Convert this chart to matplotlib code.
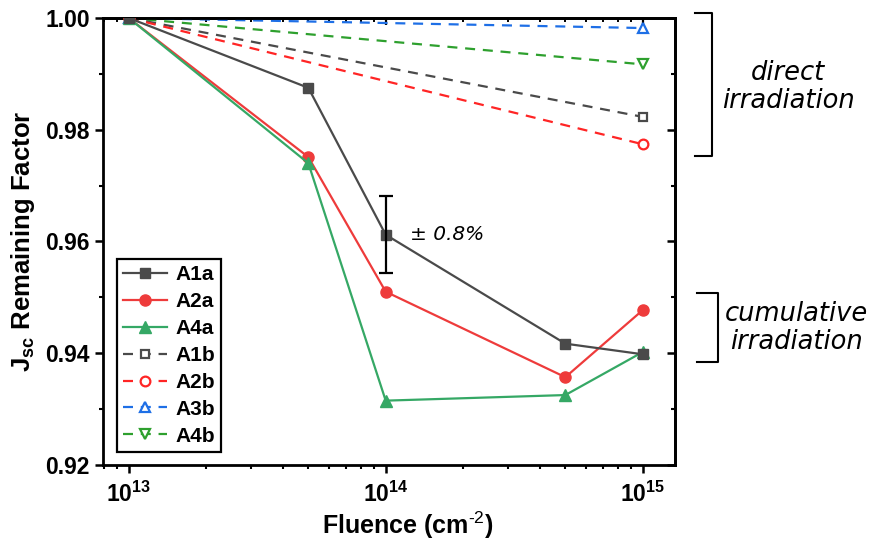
import matplotlib
matplotlib.use("Agg")
import matplotlib.pyplot as plt
from matplotlib.lines import Line2D
import numpy as np

plt.rcParams['font.family'] = ['Liberation Sans', 'DejaVu Sans']
plt.rcParams['mathtext.fontset'] = 'custom'
plt.rcParams['mathtext.rm'] = 'Liberation Sans'
plt.rcParams['mathtext.bf'] = 'Liberation Sans:bold'
plt.rcParams['mathtext.default'] = 'bf'

# ---- data ----
fluence = [1e13, 5e13, 1e14, 5e14, 1e15]
A1a = [1.0, 0.9875, 0.9612, 0.9417, 0.9398]
A2a = [1.0, 0.9751, 0.9510, 0.9357, 0.9477]
A4a = [1.0, 0.9740, 0.9315, 0.9325, 0.9402]
A1a_err_x = [1e14]
A1a_err_y = [0.9612]
A1a_err = [0.0069]

fluence_b = [1e13, 1e15]
A1b = [1.0, 0.9823]
A2b = [1.0, 0.9774]
A3b = [1.0, 0.9982]
A4b = [1.0, 0.9917]

yticks = [0.92, 0.94, 0.96, 0.98, 1.00]
xticks = [1e13, 1e14, 1e15]
xticklabels = [r'$10^{13}$', r'$10^{14}$', r'$10^{15}$']

c_gray = '#4a4a4a'
c_red = '#ee3b3b'
c_green = '#35a865'
c_blue = '#1e6fe6'
c_bgreen = '#2ea02e'
c_bred = '#ff2525'

fig = plt.figure(figsize=(8.73, 5.45), dpi=100)
ax = fig.add_axes([0.118, 0.147, 0.655, 0.82])

dash = (0, (4.5, 3.5))
lw = 1.6
ms = 7
ax.plot(fluence_b, A3b, linestyle=dash, color=c_blue, lw=lw, marker='^', ms=ms,
        mfc='white', mew=1.6, label='A3b', zorder=2)
ax.plot(fluence_b, A4b, linestyle=dash, color=c_bgreen, lw=lw, marker='v', ms=ms,
        mfc='white', mew=1.6, label='A4b', zorder=2)
ax.plot(fluence_b, A1b, linestyle=dash, color=c_gray, lw=lw, marker='s', ms=6,
        mfc='white', mew=1.6, label='A1b', zorder=2)
ax.plot(fluence_b, A2b, linestyle=dash, color=c_bred, lw=lw, marker='o', ms=ms,
        mfc='white', mew=1.6, label='A2b', zorder=2)

ax.plot(fluence, A1a, '-', color=c_gray, lw=lw, marker='s', ms=ms, label='A1a', zorder=4)
ax.plot(fluence, A2a, '-', color=c_red, lw=lw, marker='o', ms=8, label='A2a', zorder=3)
ax.plot(fluence, A4a, '-', color=c_green, lw=lw, marker='^', ms=8, label='A4a', zorder=3)
ax.errorbar(A1a_err_x, A1a_err_y, yerr=A1a_err, fmt='none', ecolor='black',
            elinewidth=1.6, capsize=5, capthick=1.6, zorder=5)

ax.text(1.24e14, 0.9612, '± 0.8%', fontsize=14.5, style='italic',
        family='DejaVu Sans', va='center', ha='left')

ax.set_xscale('log')
ax.set_xlim(10 ** 12.9, 10 ** 15.125)
ax.set_ylim(0.92, 1.00)
ax.set_xticks(xticks)
ax.set_xticklabels(xticklabels)
ax.set_yticks(yticks)
ax.set_yticklabels([f'{v:.2f}' for v in yticks])
ax.set_yticks(np.arange(0.93, 1.0, 0.02), minor=True)

for lab in ax.get_yticklabels():
    lab.set_fontweight('bold')
ax.tick_params(axis='both', which='major', labelsize=16.5, width=1.8, length=6,
               direction='out')
ax.tick_params(axis='both', which='minor', width=1.5, length=3, direction='out')
ax.tick_params(axis='x', which='major', pad=6)

for s in ax.spines.values():
    s.set_linewidth(2.0)

sx = ax.secondary_xaxis('top')
sx.set_xticks(xticks)
sx.tick_params(axis='x', which='major', direction='in', length=5, width=1.6, labeltop=False)
sx.tick_params(axis='x', which='minor', direction='in', length=3, width=1.4)
sx.spines['top'].set_linewidth(2.0)
sy = ax.secondary_yaxis('right')
sy.set_yticks(yticks)
sy.set_yticks(np.arange(0.93, 1.0, 0.02), minor=True)
sy.tick_params(axis='y', which='major', direction='in', length=6, width=1.8, labelright=False)
sy.tick_params(axis='y', which='minor', direction='in', length=3, width=1.5)
sy.spines['right'].set_linewidth(2.0)

ax.set_xlabel(r'Fluence (cm$^{\text{-2}}$)', fontsize=18, fontweight='bold', labelpad=1)
ax.xaxis.set_label_coords((408 - 103) / 572, -0.1)
ax.xaxis.label.set_va('top')
ax.set_ylabel(r'J$_{sc}$ Remaining Factor', fontsize=18.5, fontweight='bold', labelpad=6)

handles, labels = ax.get_legend_handles_labels()
order = ['A1a', 'A2a', 'A4a', 'A1b', 'A2b', 'A3b', 'A4b']
hmap = dict(zip(labels, handles))
leg = ax.legend([hmap[k] for k in order], order, loc='lower left',
                bbox_to_anchor=(0.024, 0.029), borderaxespad=0, fancybox=False,
                framealpha=1, edgecolor='black', prop={'weight': 'bold', 'size': 15},
                handlelength=2.1, handletextpad=0.4, labelspacing=0.38,
                borderpad=0.3)
leg.get_frame().set_linewidth(1.6)

# brackets and annotations (figure pixel coordinates)
W, H = 873, 545
def fx(px):
    return px / W
def fy(py):
    return 1 - py / H

br = dict(color='black', lw=1.5, transform=fig.transFigure, clip_on=False)
fig.add_artist(Line2D([fx(695), fx(712), fx(712), fx(695)],
                      [fy(13), fy(13), fy(156), fy(156)], **br))
fig.add_artist(Line2D([fx(697), fx(718), fx(718), fx(697)],
                      [fy(293), fy(293), fy(362), fy(362)], **br))
fig.text(fx(788), fy(87), 'direct\nirradiation', fontsize=18.5, style='italic',
         family='DejaVu Sans', ha='center', va='center', linespacing=1.1)
fig.text(fx(796), fy(328), 'cumulative\nirradiation', fontsize=18.5, style='italic',
         family='DejaVu Sans', ha='center', va='center', linespacing=1.1)

fig.savefig('out.png', dpi=100)
